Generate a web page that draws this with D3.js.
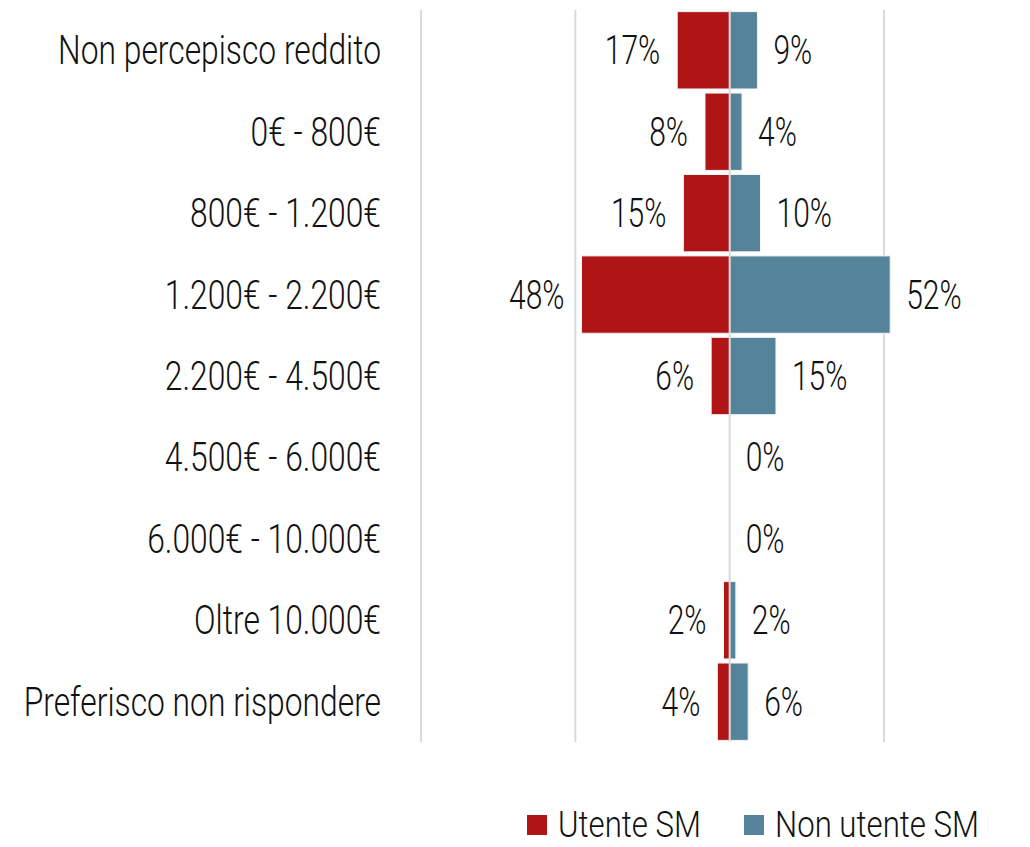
<!DOCTYPE html>
<html>
  <head>
    <script src="https://d3js.org/d3.v7.min.js"></script>
    <style>
      body { margin: 0; background: #fff; }
      text { font-family: Roboto, "DejaVu Sans", sans-serif; font-weight: 300; fill: #111; }
      .grid line { stroke: #d9d9d9; stroke-width: 2px; }
      .cat { font-size: 40px; text-anchor: end; }
      .val { font-size: 40px; }
      .legend text { font-size: 37px; }
    </style>
  </head>
  <body>
    <svg width="1030" height="847"></svg>
    <script>
      const categories = [
        "Non percepisco reddito", "0€ - 800€", "800€ - 1.200€", "1.200€ - 2.200€",
        "2.200€ - 4.500€", "4.500€ - 6.000€", "6.000€ - 10.000€", "Oltre 10.000€",
        "Preferisco non rispondere"
      ];
      const utente = [17, 8, 15, 48, 6, 0, 0, 2, 4];
      const nonUtente = [9, 4, 10, 52, 15, 0, 0, 2, 6];
      const gridTicks = [-100, -50, 0, 50];
      const seriesNames = ["Utente SM", "Non utente SM"];
      const colors = ["#b01515", "#55849a"];

      // the reference uses a narrow font: squeeze text horizontally
      const squeezeCat = 0.795, squeezeVal = 0.75, squeezeLeg = 0.843;

      const svg = d3.select("svg");
      const x = d3.scaleLinear().domain([-100, 50]).range([421, 884]);
      const y = d3.scaleBand().domain(categories).range([10, 742]).paddingInner(0.05).paddingOuter(0.02);

      svg.append("g").attr("class", "grid")
        .selectAll("line").data(gridTicks.filter(t => t !== 0))
        .enter().append("line")
          .attr("x1", d => x(d)).attr("x2", d => x(d))
          .attr("y1", 10).attr("y2", 742);

      const rows = categories.map((c, i) => ({c, u: utente[i], n: nonUtente[i]}));

      svg.selectAll(".barU").data(rows).enter().append("rect")
        .attr("x", d => x(-d.u)).attr("width", d => x(0) - x(-d.u))
        .attr("y", d => y(d.c)).attr("height", y.bandwidth())
        .attr("fill", colors[0]).attr("stroke", "#f4f4f4").attr("stroke-width", 1)
        .style("display", d => d.u > 0 ? null : "none");
      svg.selectAll(".barN").data(rows).enter().append("rect")
        .attr("x", x(0)).attr("width", d => x(d.n) - x(0))
        .attr("y", d => y(d.c)).attr("height", y.bandwidth())
        .attr("fill", colors[1]).attr("stroke", "#f4f4f4").attr("stroke-width", 1)
        .style("display", d => d.n > 0 ? null : "none");

      // center axis line
      svg.append("g").attr("class", "grid").append("line")
        .attr("x1", x(0)).attr("x2", x(0)).attr("y1", 10).attr("y2", 742);

      const mid = d => y(d) + y.bandwidth() / 2;

      svg.selectAll(".cat").data(categories).enter().append("text")
        .attr("class", "cat")
        .attr("transform", d => `translate(381,${mid(d)}) scale(${squeezeCat},1)`)
        .attr("dy", "0.35em").text(d => d);

      svg.selectAll(".valU").data(rows.filter(d => d.u > 0)).enter().append("text")
        .attr("class", "val").attr("text-anchor", "end")
        .attr("transform", d => `translate(${x(-d.u) - 17},${mid(d.c)}) scale(${squeezeVal},1)`)
        .attr("dy", "0.35em").text(d => d.u + "%");
      svg.selectAll(".valN").data(rows).enter().append("text")
        .attr("class", "val")
        .attr("transform", d => `translate(${x(d.n) + 16},${mid(d.c)}) scale(${squeezeVal},1)`)
        .attr("dy", "0.35em").text(d => d.n + "%");

      const legend = svg.append("g").attr("class", "legend");
      const lx = [527, 744];
      seriesNames.forEach((s, i) => {
        legend.append("rect").attr("x", lx[i]).attr("y", 815).attr("width", 20).attr("height", 20)
          .attr("fill", colors[i]);
        legend.append("text")
          .attr("transform", `translate(${lx[i] + 31},824) scale(${squeezeLeg},1)`)
          .attr("dy", "0.35em").text(s);
      });
    </script>
  </body>
</html>
